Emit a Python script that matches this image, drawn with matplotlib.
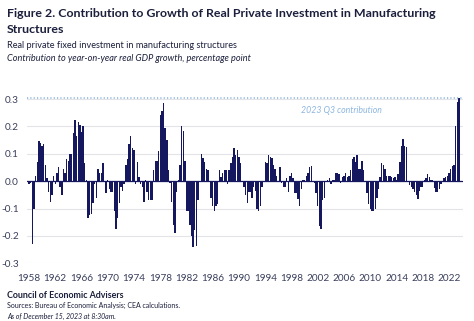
import matplotlib
matplotlib.use("Agg")
import matplotlib.pyplot as plt
import numpy as np

# Contribution of real private investment in manufacturing structures to
# year-on-year real GDP growth, quarterly, 1958Q1-2023Q3 (percentage points)
first_year = 1958
contrib_1958_1975 = [
    -0.01, -0.005, -0.23, -0.10,   # 1958
    0.02, 0.07, 0.145, 0.14,       # 1959
    0.13, 0.135, 0.06, 0.01,       # 1960
    -0.04, -0.075, -0.05, 0.02,    # 1961
    -0.01, 0.03, 0.05, -0.02,      # 1962
    -0.05, 0.045, 0.03, 0.08,      # 1963
    0.075, 0.10, 0.10, 0.175,      # 1964
    0.225, 0.165, 0.215, 0.205,    # 1965
    0.18, 0.20, 0.065, 0.005,      # 1966
    -0.135, -0.125, -0.12, -0.08,  # 1967
    -0.01, -0.06, 0.045, 0.03,     # 1968
    0.03, 0.065, 0.0, -0.045,      # 1969
    0.005, -0.03, -0.04, -0.04,    # 1970
    -0.11, -0.175, -0.135, -0.08,  # 1971
    -0.02, -0.035, -0.01, 0.06,    # 1972
    0.08, 0.135, 0.165, 0.12,      # 1973
    0.115, -0.01, 0.07, 0.015,     # 1974
    -0.01, -0.02, -0.075, 0.005,   # 1975
]
contrib_1976_1993 = [
    -0.04, -0.07, -0.07, -0.07,    # 1976
    0.04, 0.075, 0.075, 0.11,      # 1977
    0.24, 0.255, 0.285, 0.195,     # 1978
    0.15, 0.04, -0.005, -0.075,    # 1979
    -0.16, -0.19, -0.04, 0.005,    # 1980
    0.06, 0.20, 0.185, 0.075,      # 1981
    -0.11, -0.11, -0.16, -0.20,    # 1982
    -0.24, -0.18, -0.235, -0.07,   # 1983
    0.0, 0.10, 0.085, 0.07,        # 1984
    0.045, 0.04, 0.0, -0.06,       # 1985
    -0.09, -0.11, -0.09, -0.085,   # 1986
    0.04, 0.015, 0.03, 0.04,       # 1987
    0.04, -0.01, 0.04, 0.065,      # 1988
    0.09, 0.12, 0.095, 0.115,      # 1989
    0.09, 0.065, 0.0, -0.02,       # 1990
    -0.05, -0.08, -0.04, -0.04,    # 1991
    -0.06, -0.02, -0.035, -0.10,   # 1992
    -0.11, -0.09, -0.02, 0.0,      # 1993
]
contrib_1994_2023 = [
    0.07, 0.065, 0.095, 0.09,      # 1994
    0.085, 0.06, 0.045, 0.02,      # 1995
    0.0, 0.05, -0.005, -0.02,      # 1996
    -0.02, 0.01, -0.04, 0.02,      # 1997
    0.03, 0.01, -0.045, -0.045,    # 1998
    -0.065, -0.09, -0.03, 0.005,   # 1999
    0.005, 0.02, 0.03, 0.05,       # 2000
    0.055, 0.0, -0.005, -0.045,    # 2001
    -0.09, -0.165, -0.175, -0.07,  # 2002
    -0.06, 0.0, 0.005, 0.01,       # 2003
    -0.01, 0.005, 0.005, 0.03,     # 2004
    0.03, 0.025, -0.005, 0.015,    # 2005
    0.02, 0.03, 0.015, 0.02,       # 2006
    0.04, 0.08, 0.09, 0.07,        # 2007
    0.095, 0.045, 0.045, 0.075,    # 2008
    0.04, 0.0, -0.045, -0.085,     # 2009
    -0.10, -0.11, -0.11, -0.10,    # 2010
    -0.06, -0.03, 0.015, 0.065,    # 2011
    0.06, 0.045, 0.02, 0.02,       # 2012
    0.02, 0.015, 0.01, 0.015,      # 2013
    0.005, 0.025, 0.07, 0.13,      # 2014
    0.155, 0.13, 0.125, 0.0,       # 2015
    -0.015, -0.02, -0.03, -0.04,   # 2016
    -0.05, -0.065, -0.035, -0.02,  # 2017
    -0.02, 0.005, 0.01, 0.025,     # 2018
    0.015, 0.005, 0.005, -0.025,   # 2019
    -0.04, -0.04, -0.03, -0.01,    # 2020
    0.0, 0.01, 0.015, 0.02,        # 2021
    0.03, 0.045, 0.055, 0.06,      # 2022
    0.20, 0.29, 0.305,             # 2023 Q1-Q3
]
values = np.array(contrib_1958_1975 + contrib_1976_1993 + contrib_1994_2023)

tick_years = list(range(1958, 2023, 4))
y_ticks = [-0.3, -0.2, -0.1, 0.0, 0.1, 0.2, 0.3]
y_tick_labels = ["-0.3", "-0.2", "-0.1", "0.0", "0.1", "0.2", "0.3"]

title_line1 = "Figure 2. Contribution to Growth of Real Private Investment in Manufacturing"
title_line2 = "Structures"
subtitle = "Real private fixed investment in manufacturing structures"
units = "Contribution to year-on-year real GDP growth, percentage point"
ref_label = "2023 Q3 contribution"
source_org = "Council of Economic Advisers"
source_note = "Sources: Bureau of Economic Analysis; CEA calculations."
date_note = "As of December 15, 2023 at 8:30am."

NAVY = "#15185e"
TEXT = "#1b1f3b"
LIGHT_BLUE = "#8db6e0"
GRID = "#e3e3e8"
FONT = ["Lato", "DejaVu Sans"]

plt.rcParams["font.family"] = FONT

W, H = 474, 321
fig = plt.figure(figsize=(W / 100, H / 100), dpi=100)
renderer = fig.canvas.get_renderer()


def fy(px):
    """Figure fraction from a pixel row measured from the top."""
    return 1 - px / H


def fitted_text(x_px, base_px, s, width_px, **kw):
    """Place text with its baseline at base_px, sized to span width_px."""
    t = fig.text(x_px / W, fy(base_px), s, ha="left", va="baseline",
                 fontsize=10, **kw)
    w = t.get_window_extent(renderer).width
    t.set_fontsize(10 * width_px / w)
    return t


# axes placed in pixel units
ax_left, ax_right = 27, 463
ax_top, ax_bottom = 90.8, 263.3
ax = fig.add_axes([ax_left / W, fy(ax_bottom),
                   (ax_right - ax_left) / W, (ax_bottom - ax_top) / H])

x = np.arange(len(values))
ax.bar(x, values, width=0.85, color=NAVY, linewidth=0, zorder=3)

ax.set_ylim(-0.3, 0.33)
ax.set_xlim(-1.22, 264.5)
for yv in y_ticks:
    ax.axhline(yv, color=GRID, linewidth=0.8, zorder=1)
ax.axhline(0, color=NAVY, linewidth=0.9, zorder=4)
ax.axhline(values[-1], color=LIGHT_BLUE, linewidth=1.2,
           linestyle=(0, (0.7, 1.3)), zorder=5)

lbl = ax.text(166, 0.257, ref_label, color=LIGHT_BLUE, fontsize=10,
              style="italic", ha="left", va="center")
lw = lbl.get_window_extent(renderer).width
lbl.set_fontsize(10 * 81 / lw)

ax.set_yticks(y_ticks)
ax.set_yticklabels(y_tick_labels)
tick_pos = [(yr - first_year) * 4 for yr in tick_years]
ax.set_xticks(tick_pos)
ax.set_xticklabels([str(yr) for yr in tick_years])
ax.tick_params(axis="both", length=0, labelsize=7.2, labelcolor="#3a3f5c")
ax.tick_params(axis="x", pad=8)
ax.tick_params(axis="y", pad=6)
for s in ax.spines.values():
    s.set_visible(False)

t1 = fitted_text(7, 16.8, title_line1, 430, fontweight="bold", color=TEXT)
fig.text(7 / W, fy(32.8), title_line2, fontsize=t1.get_fontsize(),
         fontweight="bold", color=TEXT, ha="left", va="baseline")
fitted_text(7, 48.5, subtitle, 231, color=TEXT)
fitted_text(7, 61, units, 243, color=TEXT, style="italic")

fitted_text(7, 297.5, source_org, 118, fontweight="bold", color=TEXT)
src = fitted_text(7, 308, source_note, 174, color=TEXT)
fig.text(7 / W, fy(318.5), date_note, fontsize=src.get_fontsize(),
         color=TEXT, style="italic", ha="left", va="baseline")

fig.savefig("out.png", dpi=100)
